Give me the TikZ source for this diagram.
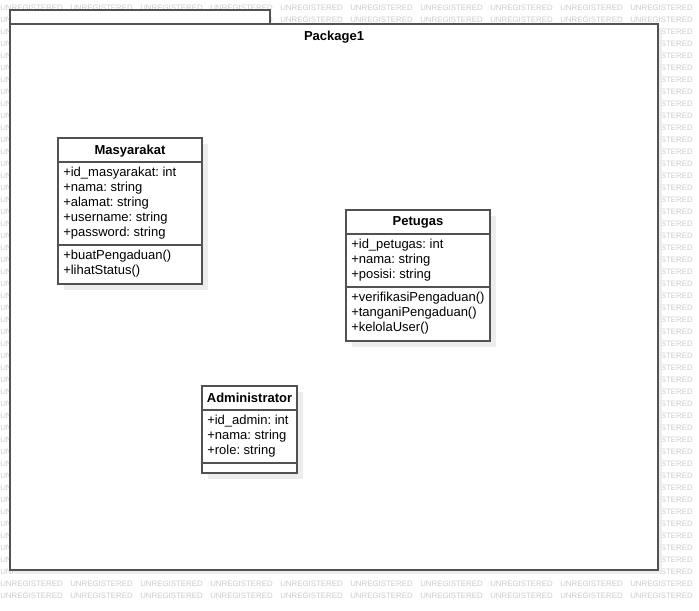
\documentclass[tikz,border=0pt]{standalone}
\usepackage{fontspec}
\setmainfont{Liberation Sans}
\frenchspacing
\begin{document}
\begin{tikzpicture}[x=0.75pt,y=-0.75pt,
  wm/.style={text=black!20,font=\fontsize{5.9}{6}\selectfont,anchor=west,inner sep=0},
  frame/.style={draw=black!68,line width=1.4pt,fill=white},
  cls/.style={draw=black!68,line width=1.1pt,fill=white},
  shade/.style={fill=black!7,draw=none},
  txt/.style={anchor=west,inner sep=0,font=\fontsize{9.75}{10}\selectfont},
  ttl/.style={inner sep=0,font=\bfseries\fontsize{9.75}{10}\selectfont}]
  \useasboundingbox (0,0) rectangle (699,610);
  \fill[white] (0,0) rectangle (699,610);
  % watermark
  \foreach \r in {0,...,49}
    \foreach \c in {0,...,9}
      \node[wm] (wm-\r-\c) at (70*\c,8+12*\r) {UNREGISTERED};
  % package
  \fill[shade] (14,28) rectangle (662,574);
  \draw[frame] (10,10) rectangle (270,24);
  \draw[frame] (10,24) rectangle (658,570);
  \node[ttl] (pkg) at (334,37) {Package1};
  % Masyarakat
  \begin{scope}
    \fill[shade] (64,144) rectangle (208,290);
    \draw[cls] (58,138) rectangle (202,284);
    \draw[cls] (58,162) -- (202,162) (58,245) -- (202,245);
    \node[ttl] (masy) at (130,151) {Masyarakat};
    \foreach \t [count=\i] in {{+id\_masyarakat: int},{+nama: string},
        {+alamat: string},{+username: string},{+password: string}}
      \node[txt] (masy-a\i) at (63,158+15*\i) {\t};
    \foreach \t [count=\i] in {{+buatPengaduan()},{+lihatStatus()}}
      \node[txt] (masy-m\i) at (63,241+15*\i) {\t};
  \end{scope}
  % Petugas
  \begin{scope}
    \fill[shade] (352,216) rectangle (496,347);
    \draw[cls] (346,210) rectangle (490,341);
    \draw[cls] (346,234) -- (490,234) (346,287) -- (490,287);
    \node[ttl] (ptg) at (418,222) {Petugas};
    \foreach \t [count=\i] in {{+id\_petugas: int},{+nama: string},{+posisi: string}}
      \node[txt] (ptg-a\i) at (351,230+15*\i) {\t};
    \foreach \t [count=\i] in {{+verifikasiPengaduan()},{+tanganiPengaduan()},
        {+kelolaUser()}}
      \node[txt] (ptg-m\i) at (351,283+15*\i) {\t};
  \end{scope}
  % Administrator
  \begin{scope}
    \fill[shade] (208,392) rectangle (303,479);
    \draw[cls] (202,386) rectangle (297,473);
    \draw[cls] (202,410) -- (297,410) (202,463) -- (297,463);
    \node[ttl] (adm) at (249.5,398) {Administrator};
    \foreach \t [count=\i] in {{+id\_admin: int},{+nama: string},{+role: string}}
      \node[txt] (adm-a\i) at (207,406+15*\i) {\t};
  \end{scope}
\end{tikzpicture}
\end{document}
